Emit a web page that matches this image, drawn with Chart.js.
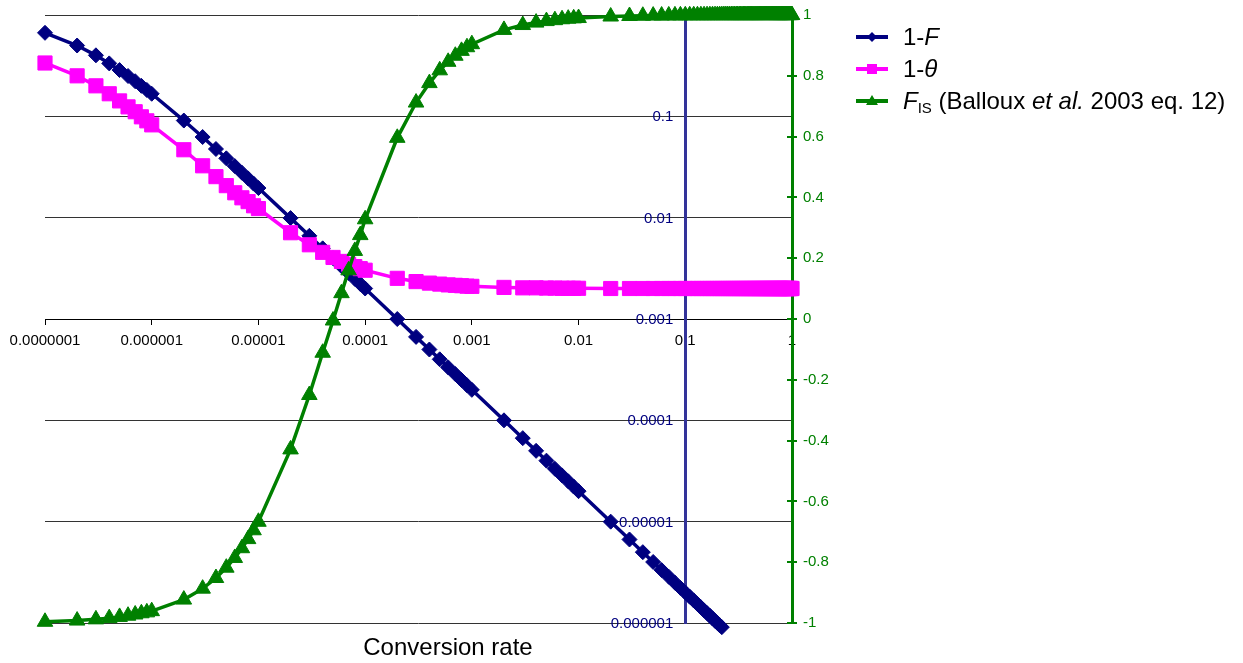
<!DOCTYPE html>
<html>
<head>
<meta charset="utf-8">
<script src="https://cdn.jsdelivr.net/npm/chart.js@4.4.1/dist/chart.umd.min.js"></script>
<style>
  html, body { margin: 0; padding: 0; background: #ffffff; }
  #wrap { width: 1243px; height: 663px; position: relative; }
</style>
</head>
<body>
<div id="wrap"><canvas id="chart" width="1243" height="663"></canvas></div>
<script>
// Conversion rate (x, log scale)
const conversionRate = [
  1e-7, 2e-7, 3e-7, 4e-7, 5e-7, 6e-7, 7e-7, 8e-7, 9e-7,
  1e-6, 2e-6, 3e-6, 4e-6, 5e-6, 6e-6, 7e-6, 8e-6, 9e-6,
  1e-5, 2e-5, 3e-5, 4e-5, 5e-5, 6e-5, 7e-5, 8e-5, 9e-5,
  1e-4, 2e-4, 3e-4, 4e-4, 5e-4, 6e-4, 7e-4, 8e-4, 9e-4,
  1e-3, 2e-3, 3e-3, 4e-3, 5e-3, 6e-3, 7e-3, 8e-3, 9e-3,
  0.01, 0.02, 0.03, 0.04, 0.05, 0.06, 0.07, 0.08, 0.09,
  0.10, 0.11, 0.12, 0.13, 0.14, 0.15, 0.16, 0.17, 0.18, 0.19,
  0.20, 0.21, 0.22, 0.23, 0.24, 0.25, 0.26, 0.27, 0.28, 0.29,
  0.30, 0.31, 0.32, 0.33, 0.34, 0.35, 0.36, 0.37, 0.38, 0.39,
  0.40, 0.41, 0.42, 0.43, 0.44, 0.45, 0.46, 0.47, 0.48, 0.49,
  0.50, 0.51, 0.52, 0.53, 0.54, 0.55, 0.56, 0.57, 0.58, 0.59,
  0.60, 0.61, 0.62, 0.63, 0.64, 0.65, 0.66, 0.67, 0.68, 0.69,
  0.70, 0.71, 0.72, 0.73, 0.74, 0.75, 0.76, 0.77, 0.78, 0.79,
  0.80, 0.81, 0.82, 0.83, 0.84, 0.85, 0.86, 0.87, 0.88, 0.89,
  0.90, 0.91, 0.92, 0.93, 0.94, 0.95, 0.96, 0.97, 0.98, 0.99,
  1.00
];

// 1-F (left log axis); the series leaves the axis range just past 0.2
const oneMinusF = [
  0.667, 0.5, 0.4, 0.333, 0.286, 0.25, 0.222, 0.2, 0.182,
  0.167, 0.0909, 0.0625, 0.0476, 0.0385, 0.0323, 0.0278, 0.0244, 0.0217,
  0.0196, 0.0099, 0.00662, 0.00498, 0.00398, 0.00332, 0.00285, 0.00249, 0.00222,
  0.0020, 0.000999, 0.000666, 0.0005, 0.0004, 0.000333, 0.000286, 0.00025, 0.000222,
  0.0002, 0.0001, 6.67e-5, 5.0e-5, 4.0e-5, 3.33e-5, 2.86e-5, 2.5e-5, 2.22e-5,
  2.0e-5, 1.0e-5, 6.67e-6, 5.0e-6, 4.0e-6, 3.33e-6, 2.86e-6, 2.5e-6, 2.22e-6,
  2.0e-6, 1.82e-6, 1.67e-6, 1.54e-6, 1.43e-6, 1.33e-6, 1.25e-6, 1.18e-6, 1.11e-6, 1.05e-6,
  1.0e-6, 9.5e-7, 9.1e-7
];

// 1-theta (left log axis)
const oneMinusTheta = [
  0.336, 0.251, 0.200, 0.167, 0.142, 0.124, 0.111, 0.0989, 0.0903,
  0.0824, 0.0468, 0.0325, 0.0254, 0.0207, 0.0176, 0.0157, 0.0144, 0.0131,
  0.0123, 0.00710, 0.00540, 0.00455, 0.00405, 0.00370, 0.00347, 0.00329, 0.00314,
  0.00303, 0.00252, 0.00234, 0.00226, 0.00221, 0.00217, 0.00215, 0.00213, 0.00211,
  0.00210, 0.00205, 0.00203, 0.00203, 0.00202, 0.00202, 0.00201, 0.00201, 0.00201,
  0.00201, 0.00200, 0.00200, 0.00200, 0.00200, 0.00200, 0.00200, 0.00200, 0.00200,
  0.00200, 0.00200, 0.00200, 0.00200, 0.00200, 0.00200, 0.00200, 0.00200, 0.00200, 0.00200,
  0.00200, 0.00200, 0.00200, 0.00200, 0.00200, 0.00200, 0.00200, 0.00200, 0.00200, 0.00200,
  0.00200, 0.00200, 0.00200, 0.00200, 0.00200, 0.00200, 0.00200, 0.00200, 0.00200, 0.00200,
  0.00200, 0.00200, 0.00200, 0.00200, 0.00200, 0.00200, 0.00200, 0.00200, 0.00200, 0.00200,
  0.00200, 0.00200, 0.00200, 0.00200, 0.00200, 0.00200, 0.00200, 0.00200, 0.00200, 0.00200,
  0.00200, 0.00200, 0.00200, 0.00200, 0.00200, 0.00200, 0.00200, 0.00200, 0.00200, 0.00200,
  0.00200, 0.00200, 0.00200, 0.00200, 0.00200, 0.00200, 0.00200, 0.00200, 0.00200, 0.00200,
  0.00200, 0.00200, 0.00200, 0.00200, 0.00200, 0.00200, 0.00200, 0.00200, 0.00200, 0.00200,
  0.00200, 0.00200, 0.00200, 0.00200, 0.00200, 0.00200, 0.00200, 0.00200, 0.00200, 0.00200,
  0.00200
];

// F_IS (right linear axis)
const fIS = [
  -0.996, -0.992, -0.988, -0.984, -0.980, -0.976, -0.972, -0.968, -0.965,
  -0.961, -0.923, -0.887, -0.852, -0.818, -0.786, -0.754, -0.724, -0.695,
  -0.667, -0.429, -0.250, -0.111, -0.005, 0.085, 0.160, 0.224, 0.276,
  0.328, 0.596, 0.712, 0.776, 0.818, 0.846, 0.866, 0.882, 0.894,
  0.904, 0.951, 0.967, 0.975, 0.980, 0.983, 0.986, 0.988, 0.989,
  0.9900, 0.9950, 0.9967, 0.9975, 0.9980, 0.9983, 0.9986, 0.9988, 0.9989,
  0.9990, 0.9991, 0.9992, 0.9992, 0.9993, 0.9993, 0.9994, 0.9994, 0.9994, 0.9995,
  0.9995, 0.9995, 0.9995, 0.9996, 0.9996, 0.9996, 0.9996, 0.9996, 0.9996, 0.9996,
  0.9996, 0.9996, 0.9996, 0.9996, 0.9997, 0.9997, 0.9997, 0.9997, 0.9997, 0.9997,
  0.9997, 0.9997, 0.9997, 0.9997, 0.9997, 0.9997, 0.9997, 0.9997, 0.9997, 0.9997,
  0.9998, 0.9998, 0.9998, 0.9998, 0.9998, 0.9998, 0.9998, 0.9998, 0.9998, 0.9998,
  0.9998, 0.9998, 0.9998, 0.9998, 0.9998, 0.9998, 0.9998, 0.9998, 0.9998, 0.9998,
  0.9998, 0.9998, 0.9998, 0.9998, 0.9998, 0.9998, 0.9998, 0.9998, 0.9998, 0.9998,
  0.9998, 0.9998, 0.9998, 0.9998, 0.9998, 0.9998, 0.9998, 0.9998, 0.9998, 0.9998,
  0.9998, 0.9998, 0.9998, 0.9998, 0.9998, 0.9998, 0.9998, 0.9998, 0.9998, 0.9998,
  0.9999
];

const seriesNames = ['1-F', '1-\u03B8', 'F_IS (Balloux et al. 2003 eq. 12)'];
const seriesColors = ['#000080', '#FF00FF', '#008000'];

const xTickValues = [1e-7, 1e-6, 1e-5, 1e-4, 1e-3, 1e-2, 1e-1, 1];
const xTickLabels = ['0.0000001', '0.000001', '0.00001', '0.0001', '0.001', '0.01', '0.1', '1'];
const leftTickValues = [1e-6, 1e-5, 1e-4, 1e-3, 1e-2, 1e-1, 1];
const leftTickLabels = ['0.000001', '0.00001', '0.0001', '0.001', '0.01', '0.1', '1'];
const rightTickValues = [-1, -0.8, -0.6, -0.4, -0.2, 0, 0.2, 0.4, 0.6, 0.8, 1];
const rightTickLabels = ['-1', '-0.8', '-0.6', '-0.4', '-0.2', '0', '0.2', '0.4', '0.6', '0.8', '1'];

const xAxisTitle = 'Conversion rate';
const FONT = '"Liberation Sans", Arial, Helvetica, sans-serif';

const toPoints = (ys) => ys.map((y, i) => ({ x: conversionRate[i], y }));

// left-axis labels sit just left of the axis line, underneath the series
const leftLabelsPlugin = {
  id: 'leftLabels',
  beforeDatasetsDraw(chart) {
    const ctx = chart.ctx;
    const xs = chart.scales.x, ys = chart.scales.y;
    const axisX = xs.getPixelForValue(0.1);
    ctx.save();
    ctx.font = '15px ' + FONT;
    ctx.fillStyle = '#000080';
    ctx.textAlign = 'right';
    ctx.textBaseline = 'middle';
    leftTickValues.forEach((v, i) => {
      ctx.fillText(leftTickLabels[i], axisX - 12, ys.getPixelForValue(v) + 1);
    });
    // small cross ticks on the right axis
    const y2 = chart.scales.y2;
    const rx = chart.chartArea.right;
    ctx.strokeStyle = '#008000';
    ctx.lineWidth = 2;
    rightTickValues.forEach((v) => {
      const py = Math.round(y2.getPixelForValue(v));
      ctx.beginPath();
      ctx.moveTo(rx - 5, py);
      ctx.lineTo(rx + 5, py);
      ctx.stroke();
    });
    ctx.restore();
  }
};

function drawRich(ctx, x, y, parts, size) {
  parts.forEach((p) => {
    const fs = p.sub ? Math.round(size * 0.62) : size;
    ctx.font = (p.i ? 'italic ' : '') + fs + 'px ' + FONT;
    const dy = p.sub ? size * 0.28 : 0;
    ctx.fillText(p.t, x, y + dy);
    x += ctx.measureText(p.t).width;
  });
}

const legendParts = [
  [{ t: '1-' }, { t: 'F', i: true }],
  [{ t: '1-' }, { t: '\u03B8', i: true }],
  [{ t: 'F', i: true }, { t: 'IS', sub: true }, { t: ' (Balloux ' }, { t: 'et al.', i: true }, { t: ' 2003 eq. 12)' }]
];

const legendTitlePlugin = {
  id: 'legendTitle',
  afterDraw(chart) {
    const ctx = chart.ctx;
    ctx.save();
    const rows = [37, 69, 101];
    const styles = ['diamond', 'square', 'triangle'];
    rows.forEach((ry, k) => {
      const c = seriesColors[k];
      ctx.strokeStyle = c;
      ctx.fillStyle = c;
      ctx.lineWidth = 4;
      ctx.beginPath();
      ctx.moveTo(856, ry);
      ctx.lineTo(888, ry);
      ctx.stroke();
      const cx = 872;
      ctx.beginPath();
      if (styles[k] === 'diamond') {
        ctx.moveTo(cx, ry - 5); ctx.lineTo(cx + 5, ry); ctx.lineTo(cx, ry + 5); ctx.lineTo(cx - 5, ry);
      } else if (styles[k] === 'square') {
        ctx.rect(cx - 5, ry - 5, 10, 10);
      } else {
        ctx.moveTo(cx, ry - 6); ctx.lineTo(cx + 6, ry + 4); ctx.lineTo(cx - 6, ry + 4);
      }
      ctx.closePath();
      ctx.fill();
      ctx.fillStyle = '#000000';
      ctx.textAlign = 'left';
      ctx.textBaseline = 'middle';
      drawRich(ctx, 903, ry + 1, legendParts[k], 24);
    });
    ctx.font = '24px ' + FONT;
    ctx.fillStyle = '#000000';
    ctx.textAlign = 'center';
    ctx.textBaseline = 'middle';
    ctx.fillText(xAxisTitle, 448, 648);
    ctx.restore();
  }
};

new Chart(document.getElementById('chart'), {
  type: 'line',
  data: {
    datasets: [
      {
        label: seriesNames[0], data: toPoints(oneMinusF), yAxisID: 'y',
        borderColor: seriesColors[0], backgroundColor: seriesColors[0], borderWidth: 3.5,
        pointStyle: 'rectRot', pointRadius: 7.5, pointBorderWidth: 1,
        pointBackgroundColor: seriesColors[0], pointBorderColor: seriesColors[0],
        clip: false, order: 3, tension: 0
      },
      {
        label: seriesNames[1], data: toPoints(oneMinusTheta), yAxisID: 'y',
        borderColor: seriesColors[1], backgroundColor: seriesColors[1], borderWidth: 3.5,
        pointStyle: 'rect', pointRadius: 10, pointBorderWidth: 1,
        pointBackgroundColor: seriesColors[1], pointBorderColor: seriesColors[1],
        clip: false, order: 2, tension: 0
      },
      {
        label: seriesNames[2], data: toPoints(fIS), yAxisID: 'y2',
        borderColor: seriesColors[2], backgroundColor: seriesColors[2], borderWidth: 3.5,
        pointStyle: 'triangle', pointRadius: 9, pointBorderWidth: 1,
        pointBackgroundColor: seriesColors[2], pointBorderColor: seriesColors[2],
        clip: false, order: 1, tension: 0
      }
    ]
  },
  options: {
    responsive: false,
    animation: false,
    devicePixelRatio: 1,
    layout: { padding: { left: 45, top: 14, right: 401, bottom: 40 } },
    plugins: { legend: { display: false }, tooltip: { enabled: false }, title: { display: false } },
    scales: {
      x: {
        type: 'logarithmic', min: 1e-7, max: 1,
        position: { y: 0.001 },
        afterBuildTicks: (s) => { s.ticks = xTickValues.map((v) => ({ value: v })); },
        ticks: {
          autoSkip: false, maxRotation: 0, minRotation: 0, padding: 8,
          color: '#000000', font: { family: FONT, size: 15 },
          callback: (v) => { const i = xTickValues.indexOf(v); return i >= 0 ? xTickLabels[i] : ''; }
        },
        grid: { drawOnChartArea: false, drawTicks: true, tickLength: 5, color: '#000000', lineWidth: 1 },
        border: { display: true, color: '#000000', width: 1 }
      },
      y: {
        type: 'logarithmic', min: 1e-6, max: 1,
        position: { x: 0.1 },
        afterBuildTicks: (s) => { s.ticks = leftTickValues.map((v) => ({ value: v })); },
        ticks: { display: false },
        grid: { drawOnChartArea: true, drawTicks: true, tickLength: 4, color: '#333333', lineWidth: 1 },
        border: { display: true, color: '#333399', width: 3 }
      },
      y2: {
        type: 'linear', min: -1, max: 1, position: 'right',
        afterBuildTicks: (s) => { s.ticks = rightTickValues.map((v) => ({ value: v })); },
        afterFit: (s) => { s.width = 50; },
        ticks: {
          autoSkip: false, padding: 6, color: '#008000', font: { family: FONT, size: 15 },
          callback: (v) => { const i = rightTickValues.findIndex((t) => Math.abs(t - v) < 1e-9); return i >= 0 ? rightTickLabels[i] : ''; }
        },
        grid: { drawOnChartArea: false, drawTicks: true, tickLength: 5, color: '#008000', lineWidth: 2 },
        border: { display: true, color: '#008000', width: 3 }
      }
    }
  },
  plugins: [leftLabelsPlugin, legendTitlePlugin]
});
</script>
</body>
</html>
